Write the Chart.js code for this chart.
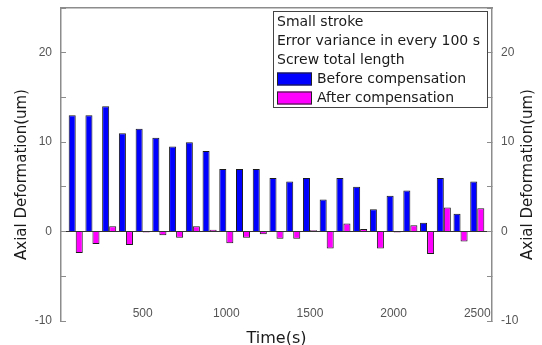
<!DOCTYPE html>
<html>
<head>
<meta charset="utf-8">
<script src="https://cdn.jsdelivr.net/npm/chart.js@4.4.0/dist/chart.umd.min.js"></script>
<style>
  html, body { margin: 0; padding: 0; background: #fff; }
  #wrap { width: 542px; height: 345px; }
</style>
</head>
<body>
<div id="wrap"><canvas id="chart"></canvas></div>
<script>
// sampling times (s), one group every 100 s
const times = [100, 200, 300, 400, 500, 600, 700, 800, 900, 1000, 1100, 1200, 1300,
               1400, 1500, 1600, 1700, 1800, 1900, 2000, 2100, 2200, 2300, 2400, 2500];
// axial deformation (um)
const beforeComp = [13, 13, 14, 11, 11.5, 10.5, 9.5, 10, 9, 7, 7, 7, 6,
                    5.6, 6, 3.6, 6, 5, 2.5, 4, 4.6, 1, 6, 2, 5.6];
const afterComp = [-2.4, -1.4, 0.6, -1.5, -0.1, -0.4, -0.7, 0.6, 0.2, -1.3, -0.7, -0.3, -0.8,
                   -0.8, 0.15, -1.9, 0.9, 0.3, -1.9, -0.1, 0.7, -2.5, 2.7, -1.1, 2.6];
const xTickValues = [500, 1000, 1500, 2000, 2500];
const legendHeader = ['Small stroke', 'Error variance in every 100 s', 'Screw total length'];
const seriesNames = ['Before compensation', 'After compensation'];
const xTitle = 'Time(s)';
const yTitle = 'Axial Deformation(um)';

const axisGray = '#8c8c8c';
const tickFont = { family: '"Liberation Sans", Arial, sans-serif', size: 12 };
const tickColor = '#555';

// y titles read bottom-to-top on both sides
const sideTitles = {
  id: 'sideTitles',
  afterDraw(chart) {
    const ctx = chart.ctx;
    const area = chart.chartArea;
    const midY = (area.top + area.bottom) / 2 + 10;
    ctx.save();
    ctx.font = '15px "DejaVu Sans", sans-serif';
    ctx.fillStyle = '#1a1a1a';
    ctx.textAlign = 'center';
    ctx.textBaseline = 'middle';
    [chart.scales.y.left + 22, chart.scales.y2.left + 36].forEach(x => {
      ctx.save();
      ctx.translate(x, midY);
      ctx.rotate(-Math.PI / 2);
      ctx.fillText(yTitle, 0, 0);
      ctx.restore();
    });
    ctx.restore();
  }
};

// boxed legend with the three header lines
const boxLegend = {
  id: 'boxLegend',
  afterDraw(chart) {
    const ctx = chart.ctx;
    const area = chart.chartArea;
    const bx = area.right - 219, by = area.top + 3, bw = 214, bh = 96;
    const rowH = 19;
    ctx.save();
    ctx.fillStyle = '#fff';
    ctx.fillRect(bx, by, bw, bh);
    ctx.strokeStyle = '#444';
    ctx.lineWidth = 1;
    ctx.strokeRect(bx + 0.5, by + 0.5, bw, bh);
    ctx.font = '14px "DejaVu Sans", sans-serif';
    ctx.fillStyle = '#1a1a1a';
    ctx.textBaseline = 'middle';
    ctx.textAlign = 'left';
    legendHeader.forEach((t, i) => ctx.fillText(t, bx + 4, by + 11 + i * rowH));
    chart.data.datasets.forEach((ds, i) => {
      const cy = by + 11 + (legendHeader.length + i) * rowH;
      ctx.fillStyle = ds.backgroundColor;
      ctx.fillRect(bx + 4, cy - 6.5, 35, 13);
      ctx.strokeStyle = '#222';
      ctx.strokeRect(bx + 4.5, cy - 6, 34, 12);
      ctx.fillStyle = '#1a1a1a';
      ctx.fillText(ds.label, bx + 44, cy);
    });
    ctx.restore();
  }
};

function yAxis(position, width) {
  return {
    position: position,
    min: -10,
    max: 25,
    afterFit: s => { s.width = width; s.paddingTop = 0; s.paddingBottom = 0; },
    ticks: {
      stepSize: 5,
      padding: 14,
      font: tickFont,
      color: tickColor,
      callback: v => (v % 10 === 0 ? String(v) : '')
    },
    grid: {
      drawOnChartArea: position === 'left',
      color: c => (c.tick && c.tick.value === 0 ? '#333' : 'rgba(0,0,0,0)'),
      tickColor: axisGray,
      tickLength: -5,
      lineWidth: 1
    },
    border: { display: true, color: axisGray, width: 1.5 }
  };
}

new Chart(document.getElementById('chart'), {
  type: 'bar',
  data: {
    datasets: [
      {
        label: seriesNames[0],
        data: times.map((t, i) => ({ x: t, y: beforeComp[i] })),
        backgroundColor: '#0000ff',
        borderColor: '#1a1a1a',
        borderWidth: 1
      },
      {
        label: seriesNames[1],
        data: times.map((t, i) => ({ x: t, y: afterComp[i] })),
        backgroundColor: '#ff00ff',
        borderColor: '#1a1a1a',
        borderWidth: 1
      }
    ]
  },
  options: {
    responsive: true,
    maintainAspectRatio: false,
    animation: false,
    devicePixelRatio: 1,
    categoryPercentage: 0.84,
    barPercentage: 1.0,
    layout: { padding: { top: 8, left: 0, right: 0, bottom: 0 } },
    plugins: { legend: { display: false }, tooltip: { enabled: false } },
    scales: {
      x: {
        type: 'linear',
        position: 'bottom',
        offset: false,
        min: 12,
        max: 2588,
        afterBuildTicks: s => { s.ticks = xTickValues.map(v => ({ value: v })); },
        afterFit: s => { s.height = 24; s.paddingLeft = 0; s.paddingRight = 0; },
        grid: { display: false, drawTicks: false, offset: false },
        border: { display: false },
        ticks: {
          mirror: true,
          padding: 0.5,
          autoSkip: false,
          maxRotation: 0,
          font: tickFont,
          color: tickColor,
          callback: v => String(v)
        },
        title: {
          display: true,
          text: xTitle,
          color: '#1a1a1a',
          font: { family: '"DejaVu Sans", sans-serif', size: 16, lineHeight: 1.1 },
          padding: { top: 0, bottom: -2.5 }
        }
      },
      xTop: {
        type: 'linear',
        position: 'top',
        afterFit: s => { s.height = 0; s.paddingLeft = 0; s.paddingRight = 0; },
        grid: { display: false, drawTicks: false },
        ticks: { display: false },
        border: { display: true, color: axisGray, width: 1.5 }
      },
      y: yAxis('left', 61),
      y2: yAxis('right', 50)
    }
  },
  plugins: [boxLegend, sideTitles]
});
</script>
</body>
</html>
